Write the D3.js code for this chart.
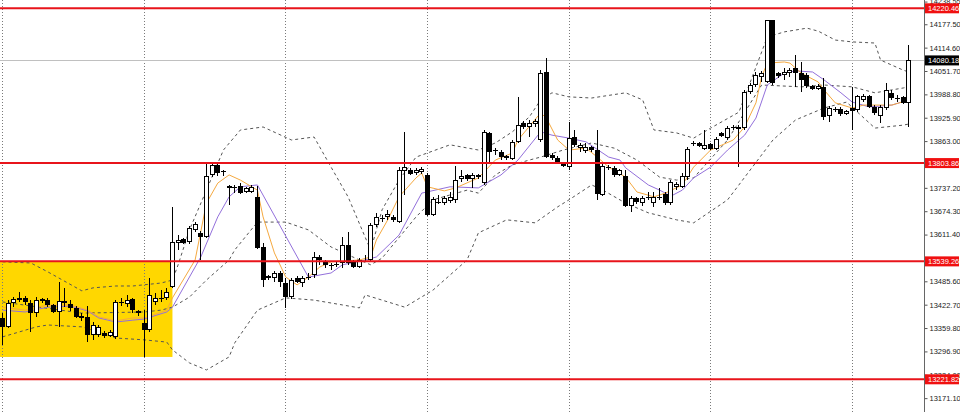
<!DOCTYPE html>
<html><head><meta charset="utf-8">
<script src="https://cdn.jsdelivr.net/npm/d3@7/dist/d3.min.js"></script>
<style>body{margin:0;background:#fff}svg{display:block}</style>
</head><body><svg id="c" width="960" height="412"></svg>
<script>
// ---- data ----
const opens=[13387,13363,13427,13435,13441,13427,13400,13438,13435,13422,13403,13433,13425,13414,13392,13390,13341,13341,13346,13338,13336,13430,13425,13438,13406,13373,13355,13430,13438,13441,13470,13589,13600,13591,13624,13616,13605,13772,13799,13780,13742,13740,13742,13726,13726,13712,13578,13495,13495,13508,13481,13443,13494,13481,13497,13503,13551,13538,13530,13532,13535,13583,13538,13524,13540,13543,13637,13656,13659,13659,13645,13782,13785,13777,13780,13772,13664,13699,13696,13702,13705,13761,13772,13761,13772,13750,13885,13839,13834,13817,13815,13861,13912,13901,13909,13866,14049,13826,13818,13801,13793,13874,13844,13836,13847,13839,13718,13793,13791,13772,13769,13688,13710,13696,13712,13696,13713,13721,13696,13739,13739,13766,13858,13858,13842,13855,13842,13885,13871,13901,13901,13898,13995,14014,14035,14022,14189,14046,14041,14046,14060,14046,14041,14011,14003,14009,13931,13949,13949,13936,13952,13947,13974,13984,13955,13931,13952,13992,13979,13982,13965];
const highs=[13400,13435,13443,13457,13446,13435,13443,13441,13441,13425,13484,13468,13435,13419,13400,13419,13376,13368,13352,13355,13435,13441,13449,13441,13408,13408,13494,13454,13462,13468,13686,13610,13602,13634,13645,13621,13804,13807,13807,13785,13745,13745,13750,13740,13745,13742,13589,13503,13513,13513,13494,13494,13500,13500,13508,13565,13556,13543,13535,13538,13605,13618,13543,13548,13556,13642,13669,13664,13678,13664,13793,13887,13791,13791,13793,13777,13713,13718,13715,13726,13796,13785,13774,13777,13774,13893,13887,13844,13839,13826,13866,13982,13917,13920,13922,14054,14087,13831,13823,13804,13914,13893,13858,13858,13850,13893,13804,13799,13796,13788,13785,13715,13713,13715,13726,13726,13737,13726,13758,13753,13777,13847,13863,13860,13893,13858,13874,13887,13904,13906,13906,14000,14019,14049,14052,14189,14189,14049,14060,14060,14095,14076,14046,14014,14017,14033,13958,13955,13955,13947,14009,13987,13990,13987,13960,13960,14019,14000,13987,13984,14122];
const lows=[13314,13360,13416,13430,13422,13349,13390,13427,13416,13400,13363,13416,13406,13387,13379,13322,13328,13336,13333,13336,13330,13419,13416,13400,13392,13282,13349,13422,13430,13435,13468,13570,13586,13586,13618,13543,13602,13766,13769,13769,13691,13723,13721,13723,13723,13573,13470,13489,13484,13470,13414,13438,13481,13470,13489,13494,13530,13521,13516,13524,13521,13530,13521,13521,13538,13538,13632,13645,13651,13645,13643,13718,13772,13772,13774,13661,13661,13694,13691,13696,13696,13753,13756,13737,13761,13745,13807,13826,13812,13812,13812,13858,13896,13874,13901,13861,13818,13812,13804,13793,13785,13847,13834,13831,13834,13705,13715,13785,13766,13769,13686,13672,13694,13688,13705,13686,13705,13691,13691,13731,13737,13758,13850,13847,13839,13839,13839,13874,13866,13893,13793,13893,13990,14009,14022,14019,14014,14033,14027,14035,14009,13995,14006,14000,14000,13920,13914,13941,13931,13933,13893,13941,13968,13952,13933,13912,13947,13974,13968,13963,13901];
const closes=[13363,13427,13438,13441,13430,13400,13435,13433,13422,13403,13433,13427,13414,13390,13387,13341,13368,13363,13338,13349,13430,13427,13435,13408,13400,13355,13449,13441,13440,13457,13591,13597,13589,13629,13640,13605,13769,13799,13777,13782,13737,13740,13723,13737,13740,13575,13489,13500,13508,13484,13443,13489,13484,13494,13497,13551,13543,13530,13530,13532,13583,13535,13524,13543,13540,13637,13659,13656,13667,13651,13785,13793,13774,13785,13788,13664,13707,13699,13710,13713,13758,13769,13761,13772,13766,13887,13834,13839,13820,13823,13861,13906,13901,13912,13917,14046,13820,13818,13807,13796,13871,13852,13852,13847,13839,13721,13796,13793,13772,13785,13688,13710,13699,13710,13712,13713,13713,13696,13753,13747,13769,13842,13858,13850,13852,13842,13869,13877,13898,13901,13896,13995,14014,14041,14046,14189,14019,14038,14049,14054,14046,14027,14011,14003,14011,13928,13952,13949,13936,13944,13944,13984,13984,13955,13939,13955,14000,13979,13979,13965,14080.18];
// indicator lines: [bar index, price]
const orangeMA=[[0,13416],[4,13408],[8,13422],[12,13422],[15,13408],[17,13390],[20,13379],[23,13387],[25,13387],[29,13408],[30,13441],[34,13543],[36,13696],[38,13750],[40,13772],[42,13758],[45,13731],[46,13659],[48,13562],[50,13497],[52,13476],[54,13497],[56,13524],[58,13538],[63,13543],[65,13551],[66,13597],[68,13651],[70,13713],[73,13764],[74,13777],[75,13740],[78,13729],[80,13737],[84,13764],[87,13812],[90,13831],[91,13866],[95,13939],[96,13925],[98,13866],[100,13839],[103,13844],[105,13820],[107,13793],[110,13766],[112,13726],[115,13713],[117,13723],[120,13745],[122,13793],[125,13839],[129,13866],[131,13901],[133,13966],[134,14036],[135,14073],[138,14076],[139,14073],[141,14046],[144,14022],[145,14001],[147,13966],[150,13952],[152,13960],[157,13960],[160,13974]];
const purpleMA=[[0,13408],[4,13403],[8,13416],[12,13419],[15,13406],[17,13387],[20,13376],[23,13381],[25,13384],[29,13403],[30,13416],[35,13551],[38,13659],[40,13713],[42,13740],[45,13745],[54,13497],[58,13508],[60,13530],[64,13543],[66,13551],[70,13610],[74,13723],[79,13740],[84,13737],[88,13772],[91,13812],[95,13888],[97,13879],[100,13871],[103,13861],[107,13820],[109,13812],[110,13791],[114,13745],[116,13731],[118,13715],[120,13731],[122,13764],[125,13793],[128,13839],[131,13879],[133,13925],[135,14014],[138,14046],[140,14052],[143,14049],[145,14028],[148,13993],[150,13968],[153,13955],[157,13960],[160,13974]];
const bandUpper=[[0,13538],[5,13535],[8,13511],[14,13460],[16,13468],[20,13473],[23,13473],[28,13481],[30,13489],[31,13530],[33,13624],[36,13731],[39,13839],[42,13893],[46,13901],[51,13866],[55,13874],[56,13847],[58,13793],[61,13713],[64,13605],[65,13570],[67,13678],[70,13758],[73,13820],[79,13853],[84,13839],[87,13858],[90,13888],[93,13928],[95,13974],[97,13993],[100,13982],[104,13979],[110,13993],[113,13974],[115,13893],[119,13885],[122,13871],[125,13898],[130,13941],[135,14143],[138,14157],[142,14167],[144,14159],[147,14135],[150,14130],[154,14127],[155,14081],[159,14054],[160,14049]];
const bandMiddle=[[0,13430],[14,13400],[25,13403],[28,13408],[30,13416],[33,13443],[36,13489],[40,13543],[41,13570],[45,13645],[50,13645],[54,13624],[58,13578],[63,13543],[65,13530],[67,13548],[73,13659],[76,13705],[82,13731],[84,13723],[87,13772],[90,13799],[93,13812],[95,13820],[99,13839],[104,13858],[108,13844],[112,13812],[116,13766],[119,13758],[122,13764],[128,13866],[134,14014],[141,14009],[145,14014],[150,14009],[154,13993],[159,14006],[160,14009]];
const bandLower=[[0,13336],[6,13363],[8,13368],[14,13363],[17,13349],[20,13333],[25,13328],[29,13322],[30,13301],[33,13266],[36,13247],[40,13282],[41,13320],[45,13408],[50,13441],[55,13435],[60,13422],[63,13414],[64,13449],[67,13435],[71,13416],[76,13462],[82,13543],[84,13616],[89,13651],[94,13643],[98,13686],[100,13705],[104,13745],[106,13731],[110,13696],[114,13670],[119,13651],[122,13643],[128,13705],[136,13866],[140,13920],[145,13952],[149,13968],[154,13898],[159,13906],[160,13909]];
const tickValues=[14238.55,14177.50,14114.60,14051.70,13988.80,13925.90,13863.00,13800.10,13737.20,13674.30,13611.40,13548.50,13485.60,13422.70,13359.80,13296.90,13234.00,13171.10];
const hiddenTicks=[13800.10,13548.50]; // covered by level tags in the reference
const levelPrices=[14220.46,13803.86,13539.26,13221.82];
const currentPrice=14080.18;
const separatorBars=[0,25,50,75,100,125,150];
const zoneBars=[-2,30], zonePrices=[13282,13539.26];

// ---- drawing ----
const W=960,H=412,axisX=924;
const svg=d3.select("#c");
const x=d3.scaleLinear().domain([0,160]).range([2.5,908.9]);
const y=d3.scaleLinear().domain([13139.2,14242.8]).range([410,0]);
svg.append("defs").append("clipPath").attr("id","pc").append("rect").attr("x",0).attr("y",0).attr("width",axisX).attr("height",H);
const g=svg.append("g").attr("clip-path","url(#pc)");

g.append("rect").attr("x",x(zoneBars[0])).attr("width",x(zoneBars[1])-x(zoneBars[0]))
 .attr("y",y(zonePrices[1])).attr("height",y(zonePrices[0])-y(zonePrices[1])).attr("fill","#ffd700");

g.selectAll("line.sep").data(separatorBars).join("line").attr("class","sep")
 .attr("x1",d=>Math.floor(x(d))+0.5).attr("x2",d=>Math.floor(x(d))+0.5).attr("y1",0).attr("y2",H)
 .attr("stroke","#7a7a7a").attr("stroke-dasharray","1,2");

g.append("line").attr("x1",0).attr("x2",axisX).attr("y1",Math.round(y(currentPrice))+0.5).attr("y2",Math.round(y(currentPrice))+0.5).attr("stroke","#c0c0c0");

const ln=d3.line().x(d=>x(d[0])).y(d=>y(d[1]));
[bandUpper,bandMiddle,bandLower].forEach(b=>g.append("path").attr("d",ln(b)).attr("fill","none").attr("stroke","#555").attr("stroke-dasharray","3,3"));
g.append("path").attr("d",ln(purpleMA)).attr("fill","none").attr("stroke","#9370db").attr("stroke-width",1);
g.append("path").attr("d",ln(orangeMA)).attr("fill","none").attr("stroke","#f5a940").attr("stroke-width",1);

const idx=d3.range(opens.length);
const cg=g.append("g").attr("shape-rendering","crispEdges");
idx.forEach(i=>{
  const X=Math.floor(x(i));
  const o=opens[i],c=closes[i],h=highs[i],l=lows[i];
  cg.append("line").attr("x1",X+0.5).attr("x2",X+0.5).attr("y1",y(h)).attr("y2",y(l)).attr("stroke","#000");
  const top=y(Math.max(o,c)),bot=y(Math.min(o,c));
  if(bot-top<1.5){
    cg.append("line").attr("x1",X-2).attr("x2",X+3).attr("y1",Math.round(top)+0.5).attr("y2",Math.round(top)+0.5).attr("stroke","#000");
  } else {
    cg.append("rect").attr("x",X-1.5).attr("width",4).attr("y",Math.round(top)+0.5).attr("height",Math.max(1,Math.round(bot-top)-1))
      .attr("fill",c>=o?"#fff":"#000").attr("stroke","#000");
  }
});

g.selectAll("line.lvl").data(levelPrices).join("line").attr("class","lvl")
 .attr("x1",0).attr("x2",axisX).attr("y1",d=>y(d)).attr("y2",d=>y(d)).attr("stroke","#e8141b").attr("stroke-width",2);

// right price axis
const ax=svg.append("g").attr("transform",`translate(${axisX+0.5},0)`)
 .call(d3.axisRight(y).tickValues(tickValues).tickFormat(d=>hiddenTicks.includes(d)?"":d3.format(".2f")(d)).tickSize(3).tickPadding(2));
ax.select(".domain").remove();
ax.selectAll("line").attr("stroke","#555");
ax.selectAll("text").attr("font-family","Liberation Sans, Arial, sans-serif").attr("font-size","7.5px").attr("fill","#222");
svg.append("line").attr("x1",axisX+0.5).attr("x2",axisX+0.5).attr("y1",0).attr("y2",H).attr("stroke","#666");

function tag(price,bg){
  const yy=y(price);
  svg.append("rect").attr("x",axisX+1).attr("y",yy-5).attr("width",34).attr("height",10).attr("fill",bg);
  svg.append("text").attr("x",axisX+4).attr("y",yy).attr("dy","0.35em").attr("font-family","Liberation Sans, Arial, sans-serif")
   .attr("font-size","7.5px").attr("fill","#fff").text(d3.format(".2f")(price));
}
levelPrices.forEach(p=>tag(p,"#f01010"));
tag(currentPrice,"#000");
</script></body></html>
